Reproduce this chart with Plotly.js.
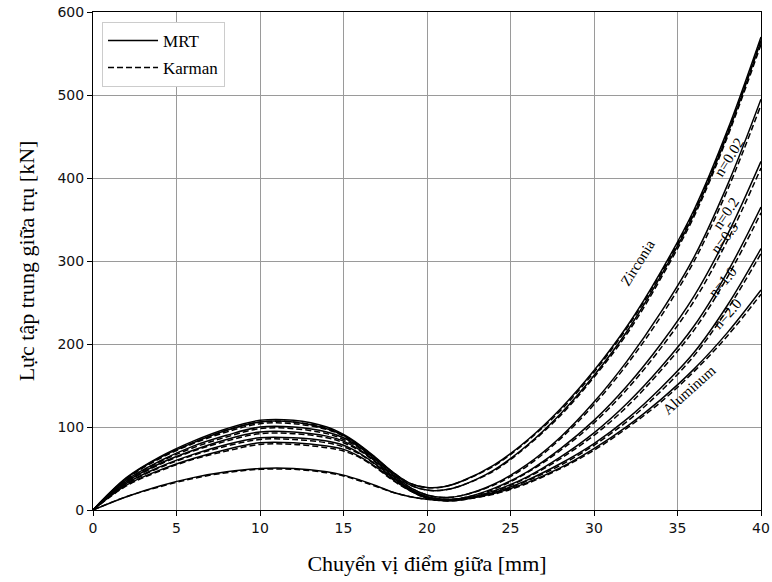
<!DOCTYPE html>
<html><head><meta charset="utf-8">
<script src="https://cdn.plot.ly/plotly-3.0.1.min.js"></script>
<style>body{margin:0;background:#fff}#chart{width:772px;height:582px}</style>
</head><body><div id="chart"></div>
<script>
// Displacement at mid point [mm]
const xs = [0,2,4,6,8,10,12,14,15,16,17,18,19,20,21,22,24,26,28,30,32,34,36,38,40];

// MRT (solid)
const zrMRT   = [0,39,64,83,98,108,108,100,91,78,62,45,32,27,28,34,54,84,122,168,222,287,362,458,570];
const n002MRT = [0,38,63,81,96,106,106,98,90,77,61,44,30,24,24,29,48,78,116,162,216,282,357,453,565];
const n02MRT  = [0,36,59,77,90,100,100,94,87,75,59,42,27,18,15,17,31,55,88,130,180,238,305,392,495];
const n05MRT  = [0,34,56,72,85,94,94,89,83,72,57,40,25,16,13,14,26,46,74,108,150,200,258,332,420];
const n10MRT  = [0,32,52,67,79,87,87,83,78,68,54,38,24,15,12,13,23,40,64,93,129,172,222,287,365];
const n20MRT  = [0,30,48,62,73,81,81,77,73,64,51,36,23,14,11,12,21,36,56,80,110,147,190,247,315];
const alMRT   = [0,16,29,39,46,50,50,46,42,36,29,21,16,13,12,13,20,33,51,74,101,133,170,214,265];

// Karman (dashed)
const zrK   = [0,38,63,81,96,106,106,99,90,77,61,45,32,27,28,34,53,83,120,166,220,285,360,455,567];
const n002K = [0,37,62,80,94,104,104,97,89,76,60,43,30,24,24,29,47,77,114,160,213,279,354,450,561];
const n02K  = [0,35,58,75,88,98,98,92,85,74,58,41,27,18,15,17,30,53,86,127,176,233,300,386,488];
const n05K  = [0,33,55,71,83,92,92,87,81,71,56,39,25,16,13,14,25,45,72,105,146,195,252,325,412];
const n10K  = [0,31,51,66,77,85,85,81,76,67,53,37,24,15,12,13,22,39,62,90,125,168,217,281,358];
const n20K  = [0,29,47,61,71,79,79,75,71,63,50,35,23,14,11,12,20,35,54,78,107,143,186,242,309];
const alK   = [0,16,28,38,45,49,49,45,41,35,28,21,16,13,12,13,19,32,50,72,99,130,167,210,260];

const mrtSeries = [zrMRT,n002MRT,n02MRT,n05MRT,n10MRT,n20MRT,alMRT];
const karSeries = [zrK,n002K,n02K,n05K,n10K,n20K,alK];

// Curve labels
const labelText  = ['Zirconia','n=0.02','n=0.2','n=0.5','n=1.0','n=2.0','Aluminum'];
const labelX     = [32.6,38.1,37.9,37.8,37.7,37.97,35.7];
const labelY     = [298,425,358,328,275,236,144];
const labelAngle = [-58,-58,-56,-53,-50,-48,-42];

const traces = [];
mrtSeries.forEach((ys,i)=>{
  traces.push({x:xs,y:ys,mode:'lines',name:'MRT',legendgroup:'mrt',showlegend:i===0,
    line:{color:'#000',width:1.5,shape:'spline',smoothing:1}});
});
karSeries.forEach((ys,i)=>{
  traces.push({x:xs,y:ys,mode:'lines',name:'Karman',legendgroup:'kar',showlegend:i===0,
    line:{color:'#000',width:1.5,dash:'6px,3px',shape:'spline',smoothing:1}});
});

const annotations = labelText.map((t,i)=>({
  x:labelX[i],y:labelY[i],text:t,showarrow:false,textangle:labelAngle[i],
  font:{family:'Liberation Serif, Times New Roman, serif',size:15,color:'#000'}
}));

const layout = {
  width:772,height:582,
  margin:{l:93,r:11,t:12,b:72},
  paper_bgcolor:'#fff',plot_bgcolor:'#fff',
  showlegend:true,
  legend:{x:0.0135,y:0.98,xanchor:'left',yanchor:'top',bgcolor:'#fff',
    bordercolor:'#ccc',borderwidth:1,itemwidth:50,tracegroupgap:2,
    font:{family:'Liberation Serif, Times New Roman, serif',size:17,color:'#000'}},
  xaxis:{range:[0,40],dtick:5,tick0:0,showgrid:true,gridcolor:'#9a9a9a',gridwidth:1,
    showline:true,linecolor:'#000',linewidth:1,mirror:true,ticks:'outside',ticklen:5,tickcolor:'#000',
    zeroline:false,
    tickfont:{family:'DejaVu Sans, sans-serif',size:14,color:'#111'},
    title:{text:'Chuyển vị điểm giữa [mm]',standoff:20,
      font:{family:'Liberation Serif, Times New Roman, serif',size:22,color:'#000'}}},
  yaxis:{range:[0,600],dtick:100,tick0:0,showgrid:true,gridcolor:'#9a9a9a',gridwidth:1,
    showline:true,linecolor:'#000',linewidth:1,mirror:true,ticks:'outside',ticklen:5,tickcolor:'#000',
    zeroline:false,
    tickfont:{family:'DejaVu Sans, sans-serif',size:14,color:'#111'},
    title:{text:'Lực tập trung giữa trụ [kN]',standoff:16,
      font:{family:'Liberation Serif, Times New Roman, serif',size:22,color:'#000'}}},
  annotations:annotations
};
Plotly.newPlot('chart',traces,layout,{displayModeBar:false,staticPlot:true});
</script></body></html>
